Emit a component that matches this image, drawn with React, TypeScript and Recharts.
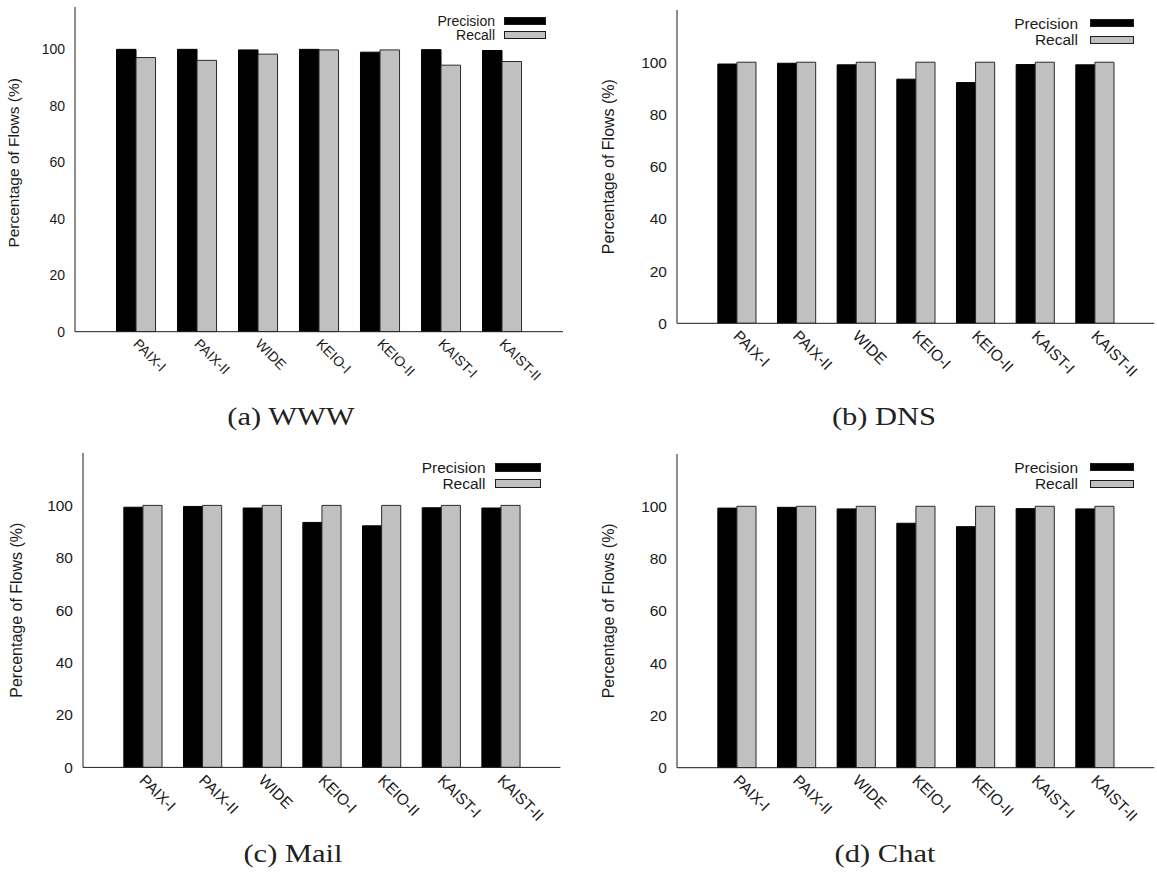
import React from 'react'
import { BarChart, Bar, XAxis, YAxis } from 'recharts'

const sites = ['PAIX-I', 'PAIX-II', 'WIDE', 'KEIO-I', 'KEIO-II', 'KAIST-I', 'KAIST-II']
const yTicks = [0, 20, 40, 60, 80, 100]
const seriesNames = ['Precision', 'Recall']
const yLabel = 'Percentage of Flows (%)'

const wwwPrecision = [100, 100, 99.8, 100, 99.0, 99.9, 99.6]
const wwwRecall = [97.1, 96.1, 98.3, 99.8, 99.8, 94.4, 95.7]
const dnsPrecision = [99.3, 99.6, 99.0, 93.5, 92.2, 99.1, 99.0]
const dnsRecall = [100, 100, 100, 100, 100, 100, 100]
const mailPrecision = [99.3, 99.6, 99.0, 93.5, 92.2, 99.1, 99.0]
const mailRecall = [100, 100, 100, 100, 100, 100, 100]
const chatPrecision = [99.3, 99.6, 99.0, 93.5, 92.2, 99.1, 99.0]
const chatRecall = [100, 100, 100, 100, 100, 100, 100]

const FILLS = ['#000000', '#c0c0c0']
const INK = '#1a1a1a'
const SANS = '"Liberation Sans", Arial, Helvetica, sans-serif'
const SERIF = '"Liberation Serif", "Times New Roman", serif'

type Box = { x0: number; y0: number; x1: number; y1: number }

interface LegendSpec {
  right: number
  rowTop: number
  rowStep: number
  w: number
  h: number
  gap: number
}

interface PanelSpec {
  caption: string
  precision: number[]
  recall: number[]
  yMax: number
  box: Box
  font: number
  labelFont: number
  labelGap: number
  labelShift: number
  legend: LegendSpec
  captionX: number
  captionY: number
}

const panels: PanelSpec[] = [
  {
    caption: '(a) WWW',
    precision: wwwPrecision,
    recall: wwwRecall,
    yMax: 115,
    box: { x0: 74.7, y0: 7.3, x1: 562.7, y1: 332 },
    font: 14,
    labelFont: 15.5,
    labelGap: 55.7,
    labelShift: -6.5,
    legend: { right: 16.7, rowTop: 13.2, rowStep: 14.8, w: 42, h: 8, gap: 9 },
    captionX: 291,
    captionY: 425,
  },
  {
    caption: '(b) DNS',
    precision: dnsPrecision,
    recall: dnsRecall,
    yMax: 120,
    box: { x0: 676.7, y0: 10, x1: 1154, y1: 323.3 },
    font: 15.5,
    labelFont: 16,
    labelGap: 62.7,
    labelShift: 0,
    legend: { right: 20, rowTop: 13.3, rowStep: 16.5, w: 44, h: 8.3, gap: 12 },
    captionX: 884,
    captionY: 425,
  },
  {
    caption: '(c) Mail',
    precision: mailPrecision,
    recall: mailRecall,
    yMax: 120,
    box: { x0: 83, y0: 453.3, x1: 560.4, y1: 767.7 },
    font: 15.5,
    labelFont: 16,
    labelGap: 61,
    labelShift: 0,
    legend: { right: 19.4, rowTop: 14, rowStep: 16, w: 46, h: 9, gap: 9.5 },
    captionX: 293,
    captionY: 862,
  },
  {
    caption: '(d) Chat',
    precision: chatPrecision,
    recall: chatRecall,
    yMax: 120,
    box: { x0: 676.7, y0: 454, x1: 1154, y1: 767.7 },
    font: 15.5,
    labelFont: 16,
    labelGap: 62.7,
    labelShift: 0,
    legend: { right: 20, rowTop: 13.3, rowStep: 16.5, w: 44, h: 8.3, gap: 12 },
    captionX: 885,
    captionY: 862,
  },
]

// x labels hang down-right from the group centre, gnuplot "rotate by -45" style
function SiteTick(props: any) {
  const { x, y, payload, fontSize } = props
  const tx = x + 3.5
  return (
    <text
      x={tx}
      y={y}
      dy="0.71em"
      transform={`rotate(45 ${tx} ${y})`}
      textAnchor="start"
      fontSize={fontSize}
      fontFamily={SANS}
      fill={INK}
    >
      {payload.value}
    </text>
  )
}

function Panel({ spec }: { spec: PanelSpec }) {
  const { box, legend: lg } = spec
  const AX_W = 70
  const XAX_H = 50
  const padL = AX_W + 10
  const plotW = box.x1 - box.x0
  const plotH = box.y1 - box.y0
  const chartLeft = box.x0 - padL
  const chartTop = box.y0 - 4
  const width = plotW + padL + 4
  const height = plotH + 4 + 60
  // one empty slot either side of the seven groups (xrange [-1:7])
  const pad = plotW / 16
  const barSize = (plotW / 8) * 0.32

  const data = sites.map((site, i) => ({
    site,
    precision: spec.precision[i],
    recall: spec.recall[i],
  }))

  const renderYLabel = (props: any) => {
    const vb = props.viewBox || { x: 10, y: 4, width: AX_W, height: plotH }
    const x = vb.x + vb.width - spec.labelGap
    const y = vb.y + vb.height / 2 + spec.labelShift
    return (
      <text
        x={x}
        y={y}
        transform={`rotate(-90 ${x} ${y})`}
        textAnchor="middle"
        fontSize={spec.labelFont}
        fontFamily={SANS}
        fill={INK}
      >
        {yLabel}
      </text>
    )
  }

  return (
    <>
      <div style={{ position: 'absolute', left: chartLeft, top: chartTop }}>
        <BarChart
          width={width}
          height={height}
          data={data}
          margin={{ top: 4, right: 4, left: 10, bottom: 60 - XAX_H }}
          barGap={0}
          barSize={barSize}
        >
          <XAxis
            dataKey="site"
            interval={0}
            height={XAX_H}
            padding={{ left: pad, right: pad }}
            tickLine={false}
            tickSize={0}
            tickMargin={6}
            axisLine={{ stroke: INK }}
            tick={<SiteTick fontSize={spec.font} />}
          />
          <XAxis
            dataKey="site"
            xAxisId="top"
            orientation="top"
            height={0}
            tick={false}
            tickLine={false}
            axisLine={{ stroke: INK }}
          />
          <YAxis
            domain={[0, spec.yMax]}
            ticks={yTicks}
            width={AX_W}
            allowDataOverflow
            tickLine={false}
            tickSize={0}
            tickMargin={10}
            axisLine={{ stroke: INK }}
            tick={{ fill: INK, fontSize: spec.font, fontFamily: SANS }}
            label={{ content: renderYLabel }}
          />
          <YAxis
            yAxisId="inner"
            domain={[0, spec.yMax]}
            ticks={yTicks}
            mirror
            width={0}
            tick={false}
            tickSize={5}
            axisLine={false}
            tickLine={{ stroke: INK }}
          />
          <YAxis
            yAxisId="right"
            orientation="right"
            domain={[0, spec.yMax]}
            ticks={yTicks}
            mirror
            width={0}
            tick={false}
            tickSize={5}
            axisLine={{ stroke: INK }}
            tickLine={{ stroke: INK }}
          />
          <Bar
            dataKey="precision"
            name={seriesNames[0]}
            fill={FILLS[0]}
            stroke="#000"
            strokeWidth={1}
            isAnimationActive={false}
          />
          <Bar
            dataKey="recall"
            name={seriesNames[1]}
            fill={FILLS[1]}
            stroke="#2a2a2a"
            strokeWidth={1}
            isAnimationActive={false}
          />
        </BarChart>
      </div>

      {seriesNames.map((name, i) => {
        const cy = box.y0 + lg.rowTop + i * lg.rowStep
        const sx = box.x1 - lg.right - lg.w
        return (
          <React.Fragment key={name}>
            <div
              style={{
                position: 'absolute',
                right: 1157 - (sx - lg.gap),
                top: cy - spec.font * 0.488,
                fontFamily: SANS,
                fontSize: spec.font,
                lineHeight: 1,
                color: INK,
                whiteSpace: 'nowrap',
              }}
            >
              {name}
            </div>
            <div
              style={{
                position: 'absolute',
                left: sx,
                top: cy - lg.h / 2,
                width: lg.w,
                height: lg.h,
                background: FILLS[i],
                border: '1px solid #1a1a1a',
                boxSizing: 'border-box',
              }}
            />
          </React.Fragment>
        )
      })}

      <div
        style={{
          position: 'absolute',
          left: spec.captionX - 120,
          width: 240,
          top: spec.captionY - 20.9,
          textAlign: 'center',
          fontFamily: SERIF,
          fontSize: 25,
          lineHeight: 1,
          color: '#222',
          transform: 'scaleX(1.22)',
        }}
      >
        {spec.caption}
      </div>
    </>
  )
}

export default function App() {
  return (
    <div
      style={{
        position: 'absolute',
        left: 0,
        top: 0,
        width: 1157,
        height: 880,
        background: '#fff',
        overflow: 'hidden',
      }}
    >
      {panels.map((p) => (
        <Panel key={p.caption} spec={p} />
      ))}
    </div>
  )
}
